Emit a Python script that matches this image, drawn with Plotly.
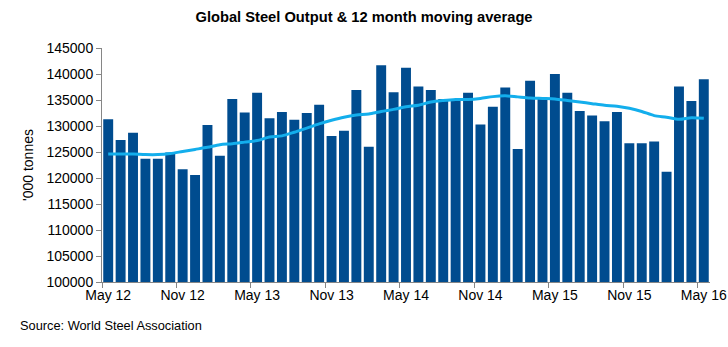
import plotly.graph_objects as go

# Monthly global crude steel output, May 2012 - May 2016 ('000 tonnes)
months = []
for yr in range(12, 17):
    for m in ["Jan", "Feb", "Mar", "Apr", "May", "Jun", "Jul", "Aug", "Sep", "Oct", "Nov", "Dec"]:
        months.append(f"{m} {yr}")
months = months[months.index("May 12"):months.index("May 16") + 1]

output = [
    131300, 127300, 128700, 123700, 123700, 124900, 121700, 120600, 130200, 124300, 135200, 132600,
    136400, 131500, 132700, 131200, 132500, 134100, 128100, 129100, 136900, 126000, 141700, 136500,
    141200, 137600, 136900, 135200, 135100, 136400, 130300, 133700, 137400, 125600, 138700, 135200,
    140000, 136400, 132900, 132000, 130900, 132700, 126700, 126700, 127000, 121200, 137600, 134800,
    139000,
]

moving_avg = [
    124600, 124600, 124600, 124500, 124500, 124700, 125100, 125500, 125900, 126400, 126600, 126900,
    127200, 127900, 128100, 128800, 129600, 130400, 131100, 131700, 132100, 132300, 132800, 133200,
    133700, 134000, 134600, 134900, 135100, 135100, 135300, 135650, 135800, 135600, 135400, 135300,
    135200, 134900, 134600, 134300, 134000, 133800, 133400, 132800, 132000, 131700, 131300, 131600,
    131500,
]

axis_grey = "#868686"
font_family = "Liberation Sans, Arial, sans-serif"

fig = go.Figure()
fig.add_trace(go.Bar(
    x=months, y=output,
    marker=dict(color="#004C8F", line=dict(width=0)),
    name="Output",
))
fig.add_trace(go.Scatter(
    x=months, y=moving_avg,
    mode="lines",
    line=dict(color="#13AEEC", width=3, shape="spline", smoothing=0.8),
    name="12 month moving average",
))

fig.update_layout(
    width=728, height=347,
    margin=dict(l=102, r=18, t=48, b=65, autoexpand=False),
    paper_bgcolor="white", plot_bgcolor="white",
    showlegend=False,
    bargap=0.2,
    font=dict(family=font_family, size=14, color="#000000"),
    title=dict(
        text="<b>Global Steel Output & 12 month moving average</b>",
        x=0.5, xanchor="center", y=0.95, yanchor="middle",
        font=dict(size=14.7, family=font_family, color="#000000"),
    ),
    xaxis=dict(
        type="category",
        range=[-0.5, len(months) - 0.5],
        tickmode="linear", tick0=0, dtick=6,
        tickson="boundaries",
        tickangle=0, automargin=False,
        ticks="outside", ticklen=5, tickcolor=axis_grey,
        showline=True, linecolor=axis_grey, linewidth=1,
        showgrid=False, zeroline=False,
        tickfont=dict(size=14),
    ),
    yaxis=dict(
        range=[100000, 145000],
        tickmode="linear", tick0=100000, dtick=5000,
        tickformat="d",
        automargin=False,
        ticks="outside", ticklen=5, tickcolor=axis_grey,
        showline=True, linecolor=axis_grey, linewidth=1,
        showgrid=False, zeroline=False,
        tickfont=dict(size=14),
        title=dict(text="'000 tonnes", font=dict(size=14), standoff=9),
    ),
)

fig.add_annotation(
    text="Source: World Steel Association",
    xref="paper", yref="paper", x=-84 / 608, y=-43 / 234,
    xanchor="left", yanchor="middle", showarrow=False,
    font=dict(size=12.8, family=font_family, color="#000000"),
)

fig.write_html("out.html")
